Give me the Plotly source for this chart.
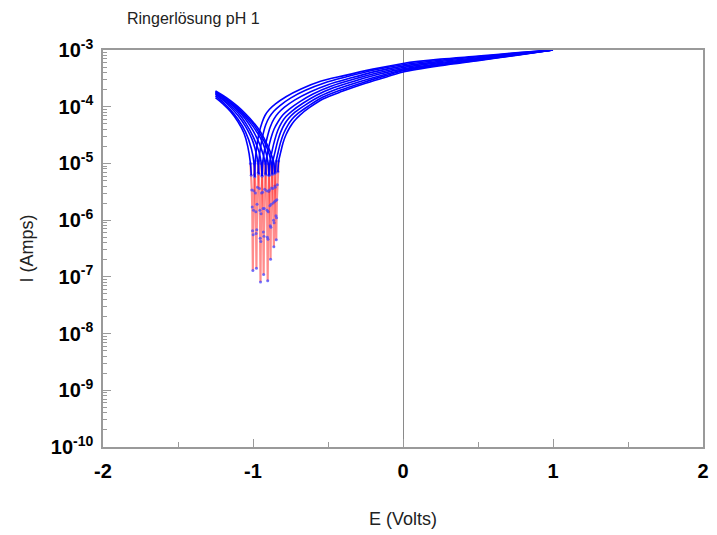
import plotly.graph_objects as go

# Potentiodynamic polarisation scans in Ringer solution, pH 1.
# Each scan: cathodic branch, the narrow dip around E_corr, anodic branch.

cath_E = [
    [-1.25, -1.20, -1.15, -1.10, -1.06, -1.035, -1.017],
    [-1.25, -1.20, -1.15, -1.10, -1.05, -1.01, -0.993],
    [-1.25, -1.20, -1.15, -1.10, -1.05, -1.00, -0.966],
    [-1.25, -1.20, -1.15, -1.10, -1.05, -1.00, -0.96, -0.945],
    [-1.25, -1.20, -1.15, -1.10, -1.05, -1.00, -0.95, -0.918],
    [-1.25, -1.20, -1.15, -1.10, -1.05, -1.00, -0.95, -0.92, -0.899],
    [-1.25, -1.20, -1.15, -1.10, -1.05, -1.00, -0.95, -0.91, -0.877],
    [-1.25, -1.20, -1.15, -1.10, -1.05, -1.00, -0.95, -0.90, -0.861],
]
cath_I = [
    [1.45e-4, 1.12e-4, 8.2e-5, 5.4e-5, 3.4e-5, 2.0e-5, 1.0e-5],
    [1.55e-4, 1.2e-4, 8.8e-5, 6.0e-5, 3.6e-5, 1.8e-5, 1.0e-5],
    [1.65e-4, 1.3e-4, 9.8e-5, 7.0e-5, 4.5e-5, 2.4e-5, 1.0e-5],
    [1.7e-4, 1.35e-4, 1.05e-4, 7.8e-5, 5.2e-5, 3.0e-5, 1.6e-5, 1.0e-5],
    [1.75e-4, 1.42e-4, 1.12e-4, 8.5e-5, 6.0e-5, 3.8e-5, 2.0e-5, 1.0e-5],
    [1.8e-4, 1.48e-4, 1.18e-4, 9.0e-5, 6.6e-5, 4.5e-5, 2.8e-5, 1.8e-5, 1.0e-5],
    [1.85e-4, 1.52e-4, 1.22e-4, 9.5e-5, 7.0e-5, 5.0e-5, 3.2e-5, 2.0e-5, 1.0e-5],
    [1.9e-4, 1.58e-4, 1.28e-4, 1.0e-4, 7.5e-5, 5.4e-5, 3.6e-5, 2.0e-5, 1.0e-5],
]

dip_E = [
    [-1.017, -1.012, -1.008, -1.005, -1.003, -1.001, -0.999, -0.997, -0.994, -0.990, -0.985],
    [-0.993, -0.988, -0.984, -0.981, -0.979, -0.977, -0.975, -0.973, -0.970, -0.966, -0.961],
    [-0.966, -0.961, -0.957, -0.954, -0.952, -0.950, -0.948, -0.946, -0.943, -0.939, -0.934],
    [-0.945, -0.940, -0.936, -0.933, -0.931, -0.929, -0.927, -0.925, -0.922, -0.918, -0.913],
    [-0.918, -0.913, -0.909, -0.906, -0.904, -0.902, -0.900, -0.898, -0.895, -0.891, -0.886],
    [-0.899, -0.894, -0.890, -0.887, -0.885, -0.883, -0.881, -0.879, -0.876, -0.872, -0.867],
    [-0.877, -0.872, -0.868, -0.865, -0.863, -0.861, -0.859, -0.857, -0.854, -0.850, -0.845],
    [-0.861, -0.856, -0.852, -0.849, -0.847, -0.845, -0.843, -0.841, -0.838, -0.834, -0.829],
]
dip_I = [
    [1.0e-5, 6.2e-6, 3.4e-6, 1.7e-6, 6.5e-7, 1.29e-7, 5.5e-7, 1.5e-6, 3.3e-6, 6.3e-6, 1.1e-5],
    [1.0e-5, 5.8e-6, 3.0e-6, 1.4e-6, 5.8e-7, 1.42e-7, 6.8e-7, 1.9e-6, 3.8e-6, 6.8e-6, 1.1e-5],
    [1.0e-5, 6.5e-6, 3.6e-6, 1.5e-6, 4.8e-7, 8.1e-8, 4.2e-7, 1.3e-6, 3.0e-6, 6.0e-6, 1.1e-5],
    [1.0e-5, 6.0e-6, 3.1e-6, 1.6e-6, 6.2e-7, 1.1e-7, 5.2e-7, 1.6e-6, 3.5e-6, 6.6e-6, 1.1e-5],
    [1.0e-5, 6.3e-6, 3.3e-6, 1.5e-6, 5.0e-7, 8.5e-8, 4.6e-7, 1.4e-6, 3.2e-6, 6.2e-6, 1.1e-5],
    [1.0e-5, 6.1e-6, 3.4e-6, 1.8e-6, 8.0e-7, 2.05e-7, 7.5e-7, 1.9e-6, 3.7e-6, 6.7e-6, 1.1e-5],
    [1.0e-5, 6.4e-6, 3.6e-6, 2.0e-6, 1.0e-6, 3.4e-7, 9.0e-7, 2.1e-6, 4.0e-6, 6.9e-6, 1.1e-5],
    [1.0e-5, 6.6e-6, 3.8e-6, 2.2e-6, 1.2e-6, 4.5e-7, 1.1e-6, 2.3e-6, 4.2e-6, 7.1e-6, 1.1e-5],
]

anod_E = [
    [-0.985, -0.975, -0.96, -0.94, -0.92, -0.89, -0.85, -0.78, -0.68, -0.55, -0.40, -0.20, 0.0, 0.25, 0.50, 0.75, 1.0],
    [-0.961, -0.95, -0.935, -0.915, -0.89, -0.86, -0.82, -0.75, -0.65, -0.52, -0.38, -0.20, 0.0, 0.25, 0.50, 0.75, 1.0],
    [-0.934, -0.922, -0.905, -0.885, -0.86, -0.83, -0.79, -0.72, -0.62, -0.50, -0.35, -0.18, 0.0, 0.25, 0.50, 0.75, 1.0],
    [-0.913, -0.90, -0.88, -0.86, -0.83, -0.80, -0.76, -0.69, -0.60, -0.48, -0.33, -0.16, 0.0, 0.25, 0.50, 0.75, 1.0],
    [-0.886, -0.872, -0.855, -0.835, -0.81, -0.78, -0.74, -0.67, -0.58, -0.46, -0.31, -0.15, 0.0, 0.25, 0.50, 0.75, 1.0],
    [-0.867, -0.853, -0.835, -0.815, -0.79, -0.76, -0.72, -0.65, -0.56, -0.44, -0.29, -0.14, 0.0, 0.25, 0.50, 0.75, 1.0],
    [-0.845, -0.832, -0.815, -0.795, -0.77, -0.74, -0.70, -0.63, -0.54, -0.42, -0.27, -0.12, 0.0, 0.25, 0.50, 0.75, 1.0],
    [-0.829, -0.816, -0.80, -0.78, -0.755, -0.725, -0.685, -0.62, -0.53, -0.41, -0.26, -0.11, 0.0, 0.25, 0.50, 0.75, 1.0],
]
anod_I = [
    [1.1e-5, 2.0e-5, 3.4e-5, 5.2e-5, 7.0e-5, 9.0e-5, 1.12e-4, 1.5e-4, 2.05e-4, 2.8e-4, 3.5e-4, 4.6e-4, 5.8e-4, 6.9e-4, 7.8e-4, 8.9e-4, 1.0e-3],
    [1.1e-5, 1.9e-5, 3.1e-5, 4.8e-5, 6.6e-5, 8.4e-5, 1.05e-4, 1.42e-4, 1.95e-4, 2.65e-4, 3.35e-4, 4.4e-4, 5.5e-4, 6.6e-4, 7.6e-4, 8.8e-4, 1.0e-3],
    [1.1e-5, 1.8e-5, 2.9e-5, 4.4e-5, 6.1e-5, 7.8e-5, 9.8e-5, 1.32e-4, 1.82e-4, 2.45e-4, 3.2e-4, 4.2e-4, 5.2e-4, 6.3e-4, 7.3e-4, 8.6e-4, 1.0e-3],
    [1.1e-5, 1.7e-5, 2.8e-5, 4.0e-5, 5.6e-5, 7.2e-5, 9.0e-5, 1.22e-4, 1.68e-4, 2.3e-4, 3.05e-4, 4.0e-4, 4.9e-4, 6.0e-4, 7.1e-4, 8.5e-4, 1.0e-3],
    [1.1e-5, 1.7e-5, 2.6e-5, 3.8e-5, 5.2e-5, 6.7e-5, 8.4e-5, 1.14e-4, 1.58e-4, 2.18e-4, 2.9e-4, 3.8e-4, 4.65e-4, 5.8e-4, 6.9e-4, 8.3e-4, 1.0e-3],
    [1.1e-5, 1.6e-5, 2.5e-5, 3.6e-5, 4.9e-5, 6.3e-5, 8.0e-5, 1.08e-4, 1.5e-4, 2.05e-4, 2.75e-4, 3.6e-4, 4.45e-4, 5.6e-4, 6.7e-4, 8.2e-4, 1.0e-3],
    [1.1e-5, 1.6e-5, 2.4e-5, 3.4e-5, 4.6e-5, 6.0e-5, 7.6e-5, 1.03e-4, 1.45e-4, 1.95e-4, 2.65e-4, 3.5e-4, 4.3e-4, 5.45e-4, 6.6e-4, 8.1e-4, 1.0e-3],
    [1.1e-5, 1.55e-5, 2.3e-5, 3.2e-5, 4.3e-5, 5.6e-5, 7.2e-5, 9.8e-5, 1.38e-4, 1.85e-4, 2.55e-4, 3.35e-4, 4.1e-4, 5.3e-4, 6.5e-4, 8.0e-4, 1.0e-3],
]

x_ticks = [-2, -1, 0, 1, 2]
y_exponents = [-3, -4, -5, -6, -7, -8, -9, -10]

FONT = "Liberation Sans, Arial, sans-serif"
BLUE = "#0000ff"
AXIS_GREY = "#9a9a9a"

fig = go.Figure()

for k in range(len(cath_E)):
    # red near-vertical dip around the corrosion potential, with blue sample dots
    fig.add_trace(go.Scatter(
        x=dip_E[k], y=dip_I[k], mode="lines+markers",
        line=dict(color="rgba(255,0,0,0.45)", width=2.2),
        marker=dict(color="rgba(70,70,255,0.75)", size=3),
        showlegend=False, hoverinfo="skip",
    ))

for k in range(len(cath_E)):
    # blue branches, each carried one sample into the dip so the tip of the V stays smooth
    branch_c = (cath_E[k] + dip_E[k][1:2], cath_I[k] + dip_I[k][1:2])
    branch_a = (dip_E[k][9:10] + anod_E[k], dip_I[k][9:10] + anod_I[k])
    for xs, ys in (branch_c, branch_a):
        fig.add_trace(go.Scatter(
            x=xs, y=ys, mode="lines",
            line=dict(color=BLUE, width=1.6, shape="spline", smoothing=0.8),
            showlegend=False, hoverinfo="skip",
        ))

fig.update_layout(
    width=717, height=535,
    margin=dict(l=103, r=8, t=50, b=88),
    paper_bgcolor="white", plot_bgcolor="white",
    font=dict(family=FONT, color="#222"),
    title=dict(
        text="Ringerlösung pH 1",
        x=127 / 717, xanchor="left", xref="container",
        y=1 - 18 / 535, yanchor="middle", yref="container",
        font=dict(family=FONT, size=16, color="#222"),
    ),
)

fig.update_xaxes(
    range=[-2, 2],
    tickvals=x_ticks,
    ticktext=[f"<b>{v}</b>" for v in x_ticks],
    tickfont=dict(family=FONT, size=20, color="black"),
    ticks="inside", ticklen=8, tickcolor=AXIS_GREY, tickwidth=1,
    ticklabelstandoff=5,
    minor=dict(ticks="inside", ticklen=5, dtick=0.5, tickcolor=AXIS_GREY, showgrid=False),
    showline=True, linecolor=AXIS_GREY, linewidth=1.5, mirror=True,
    showgrid=False,
    zeroline=True, zerolinecolor="#8a8a8a", zerolinewidth=1,
    title=dict(text="E (Volts)", font=dict(family=FONT, size=18, color="#222"), standoff=32),
)

fig.update_yaxes(
    type="log", range=[-10, -3],
    tickvals=[10.0 ** e for e in y_exponents],
    ticktext=[f"<b>10<sup>{e}</sup></b>" for e in y_exponents],
    tickfont=dict(family=FONT, size=20, color="black"),
    ticks="inside", ticklen=8, tickcolor=AXIS_GREY, tickwidth=1,
    ticklabelstandoff=4,
    minor=dict(ticks="inside", ticklen=4, dtick="D1", tickcolor=AXIS_GREY, showgrid=False),
    showline=True, linecolor=AXIS_GREY, linewidth=1.5, mirror=True,
    showgrid=False, zeroline=False,
    title=dict(text="I (Amps)", font=dict(family=FONT, size=18, color="#222"), standoff=12),
)

fig.write_html("out.html")
